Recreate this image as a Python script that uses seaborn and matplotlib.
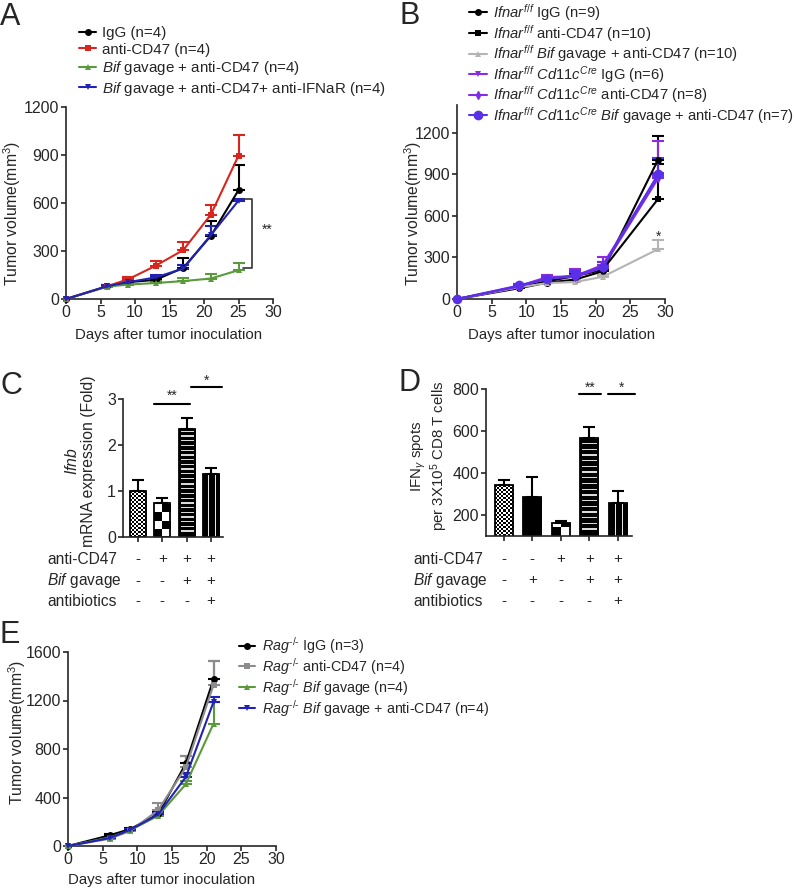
import numpy as np
import pandas as pd
import matplotlib
matplotlib.use('Agg')
import matplotlib.pyplot as plt
import matplotlib.transforms as mtransforms
import seaborn as sns

# ---- data ----
# panel A
A_days = [0, 6, 9, 13, 17, 21, 25]
A_igg = [0, 80, 105, 120, 195, 395, 680]
A_igg_err = [0, 5, 10, 12, 62, 95, 160]
A_cd47 = [0, 80, 123, 208, 306, 528, 896]
A_cd47_err = [0, 8, 15, 30, 48, 62, 130]
A_bif = [0, 78, 90, 100, 112, 128, 180]
A_bif_err = [0, 5, 8, 12, 22, 26, 42]
A_ifnar = [0, 80, 105, 135, 190, 400, 615]
A_ifnar_err = [0, 5, 10, 15, 25, 55, 12]

# panel B
B_days = [0, 9, 13, 17, 21, 29]
B_igg = [0, 78, 118, 140, 200, 1005]
B_igg_err = [0, 8, 12, 20, 20, 170]
B_cd47 = [0, 85, 128, 165, 210, 722]
B_cd47_err = [0, 8, 12, 25, 25, 250]
B_bif = [0, 85, 115, 122, 160, 360]
B_bif_err = [0, 8, 10, 12, 15, 65]
B_cre_igg = [0, 95, 158, 165, 245, 890]
B_cre_igg_err = [0, 10, 15, 50, 60, 250]
B_cre_cd47 = [0, 90, 150, 160, 225, 870]
B_cre_cd47_err = [0, 10, 12, 35, 40, 40]
B_cre_bif = [0, 98, 145, 170, 230, 900]
B_cre_bif_err = [0, 10, 12, 30, 35, 120]

# panel C
C_groups = ['c1', 'c2', 'c3', 'c4']
C_values = [1.0, 0.75, 2.35, 1.37]
C_err = [0.23, 0.09, 0.23, 0.12]
C_anti = ['-', '+', '+', '+']
C_bifg = ['-', '-', '+', '+']
C_abx = ['-', '-', '-', '+']
C_fill = ['fine', 'checker', 'hlines', 'vlines']

# panel D
D_groups = ['d1', 'd2', 'd3', 'd4', 'd5']
D_values = [345, 285, 160, 565, 258]
D_err = [20, 95, 12, 55, 57]
D_anti = ['-', '-', '+', '+', '+']
D_bifg = ['-', '+', '-', '+', '+']
D_abx = ['-', '-', '-', '-', '+']
D_fill = ['fine', 'solid', 'checker', 'hlines', 'vlines']

row_labels = ['anti-CD47', r'$\mathit{Bif}$ gavage', 'antibiotics']

# panel E
E_days = [0, 6, 9, 13, 17, 21]
E_igg = [0, 88, 140, 262, 681, 1377]
E_igg_err = [0, 8, 10, 25, 62, 145]
E_cd47 = [0, 60, 125, 295, 650, 1330]
E_cd47_err = [0, 8, 10, 62, 92, 195]
E_bif = [0, 70, 130, 250, 510, 1010]
E_bif_err = [0, 5, 8, 15, 25, 180]
E_combo = [0, 65, 135, 260, 570, 1190]
E_combo_err = [0, 5, 8, 15, 30, 35]

# ---- style ----
sns.set_style('ticks')
plt.rcParams['font.family'] = ['Liberation Sans', 'DejaVu Sans']
plt.rcParams['mathtext.fontset'] = 'custom'
plt.rcParams['mathtext.rm'] = 'Liberation Sans'
plt.rcParams['mathtext.it'] = 'Liberation Sans:italic'
plt.rcParams['axes.linewidth'] = 1.2
plt.rcParams['xtick.major.width'] = 1.2
plt.rcParams['ytick.major.width'] = 1.2
plt.rcParams['xtick.major.size'] = 3.6
plt.rcParams['ytick.major.size'] = 3.6
plt.rcParams['xtick.major.pad'] = 1
plt.rcParams['ytick.major.pad'] = 1.5
plt.rcParams['xtick.labelsize'] = 11.5
plt.rcParams['ytick.labelsize'] = 11.5
plt.rcParams['axes.labelsize'] = 10.8

W, H = 794, 890
fig = plt.figure(figsize=(W / 100, H / 100), dpi=100)


def px_axes(left, top, right, bottom):
    return fig.add_axes([left / W, 1 - bottom / H, (right - left) / W, (bottom - top) / H])


def fpos(x, y):
    return (x / W, 1 - y / H)


def growth_curve(ax, days, vals, errs, color, marker, label, ms=5):
    sns.lineplot(x=days, y=vals, ax=ax, color=color, marker=marker, markersize=ms,
                 markeredgewidth=0 if marker not in ('+', 'd') else 1, markeredgecolor=color,
                 linewidth=1.5, label=label, clip_on=False, zorder=3)
    d = np.array(days)
    v = np.array(vals)
    e = np.array(errs)
    keep = e > 0
    ax.errorbar(d[keep], v[keep], yerr=[np.zeros(keep.sum()), e[keep]], fmt='none',
                ecolor=color, elinewidth=1.5, capsize=4, capthick=1.5, zorder=2)


def style_curve_axes(ax, ymax, ystep, ylim_top):
    sns.despine(ax=ax)
    ax.set_xlim(0, 30)
    ax.set_ylim(0, ylim_top)
    ax.set_xticks(range(0, 31, 5))
    ax.set_yticks(np.arange(0, ymax + 1, ystep))


def set_labels(ax, xl, xpos, yl, ypos):
    if xl:
        ax.set_xlabel(xl, va='center')
        ax.xaxis.set_label_coords(*fpos(*xpos), transform=fig.transFigure)
    ax.set_ylabel(yl, va='center', ha='center', multialignment='center', fontsize=11.3)
    ax.yaxis.set_label_coords(*fpos(*ypos), transform=fig.transFigure)


vol_label = r'Tumor volume(mm$^{3}$)'
days_label = 'Days after tumor inoculation'

# ---- panel A ----
axA = px_axes(66, 107, 273, 299)
growth_curve(axA, A_days, A_igg, A_igg_err, 'black', 'o', 'IgG (n=4)')
growth_curve(axA, A_days, A_cd47, A_cd47_err, '#d7261e', 's', 'anti-CD47 (n=4)')
growth_curve(axA, A_days, A_bif, A_bif_err, '#5a9a3c', '^', r'$\mathit{Bif}$ gavage + anti-CD47 (n=4)')
growth_curve(axA, A_days, A_ifnar, A_ifnar_err, '#2222b4', 'v',
             r'$\mathit{Bif}$ gavage + anti-CD47+ anti-IFNaR (n=4)')
style_curve_axes(axA, 1200, 300, 1200)
axA.plot([25.6, 27, 27, 25.6], [624, 624, 191, 191], color='#333333', lw=1.2, clip_on=False)
axA.text(29.2, 430, '**', ha='center', va='center', fontsize=10)
set_labels(axA, days_label, (169, 335), vol_label, (12, 213))
axA.legend(loc='upper left', bbox_to_anchor=fpos(79, 26), bbox_transform=fig.transFigure,
           frameon=False, fontsize=10.9, handlelength=1.15, handletextpad=0.4,
           labelspacing=0.17, borderpad=0, borderaxespad=0)

# ---- panel B ----
axB = px_axes(457, 105, 665, 299)
ff = r'$\mathit{Ifnar}^{\mathit{f/f}}$'
cre = r'$\mathit{Cd11c}^{\mathit{Cre}}$'
growth_curve(axB, B_days, B_igg, B_igg_err, 'black', 'o', ff + ' IgG (n=9)')
growth_curve(axB, B_days, B_cd47, B_cd47_err, 'black', 's', ff + ' anti-CD47 (n=10)')
growth_curve(axB, B_days, B_bif, B_bif_err, '#b4b4b4', '^',
             ff + r' $\mathit{Bif}$ gavage + anti-CD47 (n=10)')
growth_curve(axB, B_days, B_cre_igg, B_cre_igg_err, '#8a2be2', 'v', ff + ' ' + cre + ' IgG (n=6)')
growth_curve(axB, B_days, B_cre_cd47, B_cre_cd47_err, '#7d2ee6', 'd',
             ff + ' ' + cre + ' anti-CD47 (n=8)', ms=4)
growth_curve(axB, B_days, B_cre_bif, B_cre_bif_err, '#5a30e6', 'o',
             ff + ' ' + cre + r' $\mathit{Bif}$ gavage + anti-CD47 (n=7)', ms=7)
style_curve_axes(axB, 1200, 300, 1400)
axB.text(29, 450, '*', ha='center', va='center', fontsize=10)
set_labels(axB, days_label, (562, 335), vol_label, (413, 213))
axB.legend(loc='upper left', bbox_to_anchor=fpos(469, 2), bbox_transform=fig.transFigure,
           frameon=False, fontsize=10.6, handlelength=1.2, handletextpad=0.4,
           labelspacing=-0.02, borderpad=0, borderaxespad=0)


# ---- bar panels ----
def fill_pattern(kind, w_px, h_px, period):
    w = max(int(round(w_px)), 2)
    h = max(int(round(h_px)), 1)
    yy, xx = np.mgrid[0:h, 0:w]
    if kind == 'fine':
        arr = ((xx // 2 + yy // 2) % 2).astype(float)
    elif kind == 'checker':
        c = w / 2.0
        arr = ((np.floor(xx / c) + np.floor(yy / c)) % 2).astype(float)
    elif kind == 'hlines':
        arr = np.zeros((h, w))
        inner = (xx >= 2) & (xx < w - 2)
        arr[((yy % period) < 1.3) & (yy > 1) & inner] = 0.85
    elif kind == 'vlines':
        arr = np.zeros((h, w))
        for cx in (int(round(w * 0.33)), int(round(w * 0.66))):
            arr[:, cx] = 0.9
    else:
        arr = np.zeros((h, w))
    return arr


def bar_panel(ax, groups, values, errs, fills, ylim, yticks, width, period):
    sns.barplot(x=groups, y=values, order=groups, ax=ax, color='white', edgecolor='black',
                linewidth=1.3, width=width, errorbar=None, saturation=1, zorder=2)
    ax.set_ylim(*ylim)
    ax.set_xlim(-0.62, len(groups) - 0.5)
    fig.canvas.draw()
    bb = ax.get_window_extent()
    px_y = bb.height / (ylim[1] - ylim[0])
    px_x = bb.width / (len(groups) - 0.5 + 0.62)
    for patch, kind in zip(ax.patches, fills):
        x0 = patch.get_x()
        x1 = x0 + patch.get_width()
        y0 = max(patch.get_y(), ylim[0])
        y1 = patch.get_y() + patch.get_height()
        arr = fill_pattern(kind, (x1 - x0) * px_x, (y1 - y0) * px_y, period)
        im = ax.imshow(arr, cmap='gray', vmin=0, vmax=1, extent=[x0, x1, y0, y1],
                       origin='lower', aspect='auto', interpolation='nearest', zorder=1)
        im.set_clip_path(patch)
        patch.set_facecolor('none')
    ax.errorbar(range(len(groups)), values, yerr=[np.zeros(len(errs)), errs], fmt='none',
                ecolor='black', elinewidth=1.5, capsize=4.5, capthick=1.5, zorder=3)
    ax.set_ylim(*ylim)
    ax.set_xlim(-0.62, len(groups) - 0.5)
    ax.set_yticks(yticks)
    ax.set_xticks(range(len(groups)))
    ax.set_xticklabels([])
    ax.set_xlabel('')
    sns.despine(ax=ax)


def sign_rows(ax, rows, label_x, row_y):
    tr = mtransforms.blended_transform_factory(ax.transData, fig.transFigure)
    for label, signs, y in zip(row_labels, rows, row_y):
        fig.text(label_x / W, 1 - y / H, label, ha='left', va='center', fontsize=11.2)
        for i, s in enumerate(signs):
            ax.text(i, 1 - y / H, s, transform=tr, ha='center', va='center', fontsize=11)


def sig_line(ax, x0, x1, y, txt, ty):
    ax.plot([x0, x1], [y, y], color='black', lw=1.5, clip_on=False)
    ax.text((x0 + x1) / 2, ty, txt, ha='center', va='center', fontsize=10)


# ---- panel C ----
axC = px_axes(123, 399, 223, 537)
bar_panel(axC, C_groups, C_values, C_err, C_fill, (0, 3), [0, 1, 2, 3], 0.66, 4.7)
sig_line(axC, 0.65, 2.15, 2.9, '**', 3.08)
sig_line(axC, 2.2, 3.45, 3.26, '*', 3.4)
axC.set_ylabel('$\\mathit{Ifnb}$\nmRNA expression (Fold)', va='center', ha='center',
               multialignment='center', linespacing=1.15, fontsize=11.3)
axC.yaxis.set_label_coords(*fpos(80, 461), transform=fig.transFigure)
sign_rows(axC, [C_anti, C_bifg, C_abx], 47, [559, 581, 601])

# ---- panel D ----
axD = px_axes(486, 389, 632, 536)
bar_panel(axD, D_groups, D_values, D_err, D_fill, (100, 800), [200, 400, 600, 800], 0.64, 5.7)
sig_line(axD, 2.65, 3.4, 776, '**', 808)
sig_line(axD, 3.65, 4.6, 776, '*', 808)
axD.set_ylabel('per 3X10$^{5}$ CD8 T cells', va='center', ha='center', fontsize=10.8)
axD.yaxis.set_label_coords(*fpos(439, 456), transform=fig.transFigure)
fig.text(419 / W, 1 - 456 / H, 'IFN$_{\\gamma}$ spots', rotation=90, ha='center', va='center',
         fontsize=10.8)
sign_rows(axD, [D_anti, D_bifg, D_abx], 413, [559, 580, 601])

# ---- panel E ----
axE = px_axes(68, 652, 276, 846)
rag = '$\\mathit{Rag}^{\\mathit{\u2010/\u2010}}$'
growth_curve(axE, E_days, E_igg, E_igg_err, 'black', 'o', rag + ' IgG (n=3)')
growth_curve(axE, E_days, E_cd47, E_cd47_err, '#8c8c8c', 's', rag + ' anti-CD47 (n=4)')
growth_curve(axE, E_days, E_bif, E_bif_err, '#5a9a3c', '^', rag + r' $\mathit{Bif}$ gavage (n=4)')
growth_curve(axE, E_days, E_combo, E_combo_err, '#2222b4', 'v',
             rag + r' $\mathit{Bif}$ gavage + anti-CD47 (n=4)')
style_curve_axes(axE, 1600, 400, 1600)
set_labels(axE, days_label, (162, 880), vol_label, (17, 732))
axE.legend(loc='upper left', bbox_to_anchor=fpos(239, 635), bbox_transform=fig.transFigure,
           frameon=False, fontsize=10.3, handlelength=1.15, handletextpad=0.45,
           labelspacing=0.0, borderpad=0, borderaxespad=0)

# ---- panel letters ----
for letter, x, y in [('A', 0, 25), ('B', 399, 24), ('C', 0, 394), ('D', 398, 391), ('E', 0, 643)]:
    fig.text(x / W, 1 - y / H, letter, fontsize=22, ha='left', va='baseline')

fig.savefig('out.png', dpi=100)
